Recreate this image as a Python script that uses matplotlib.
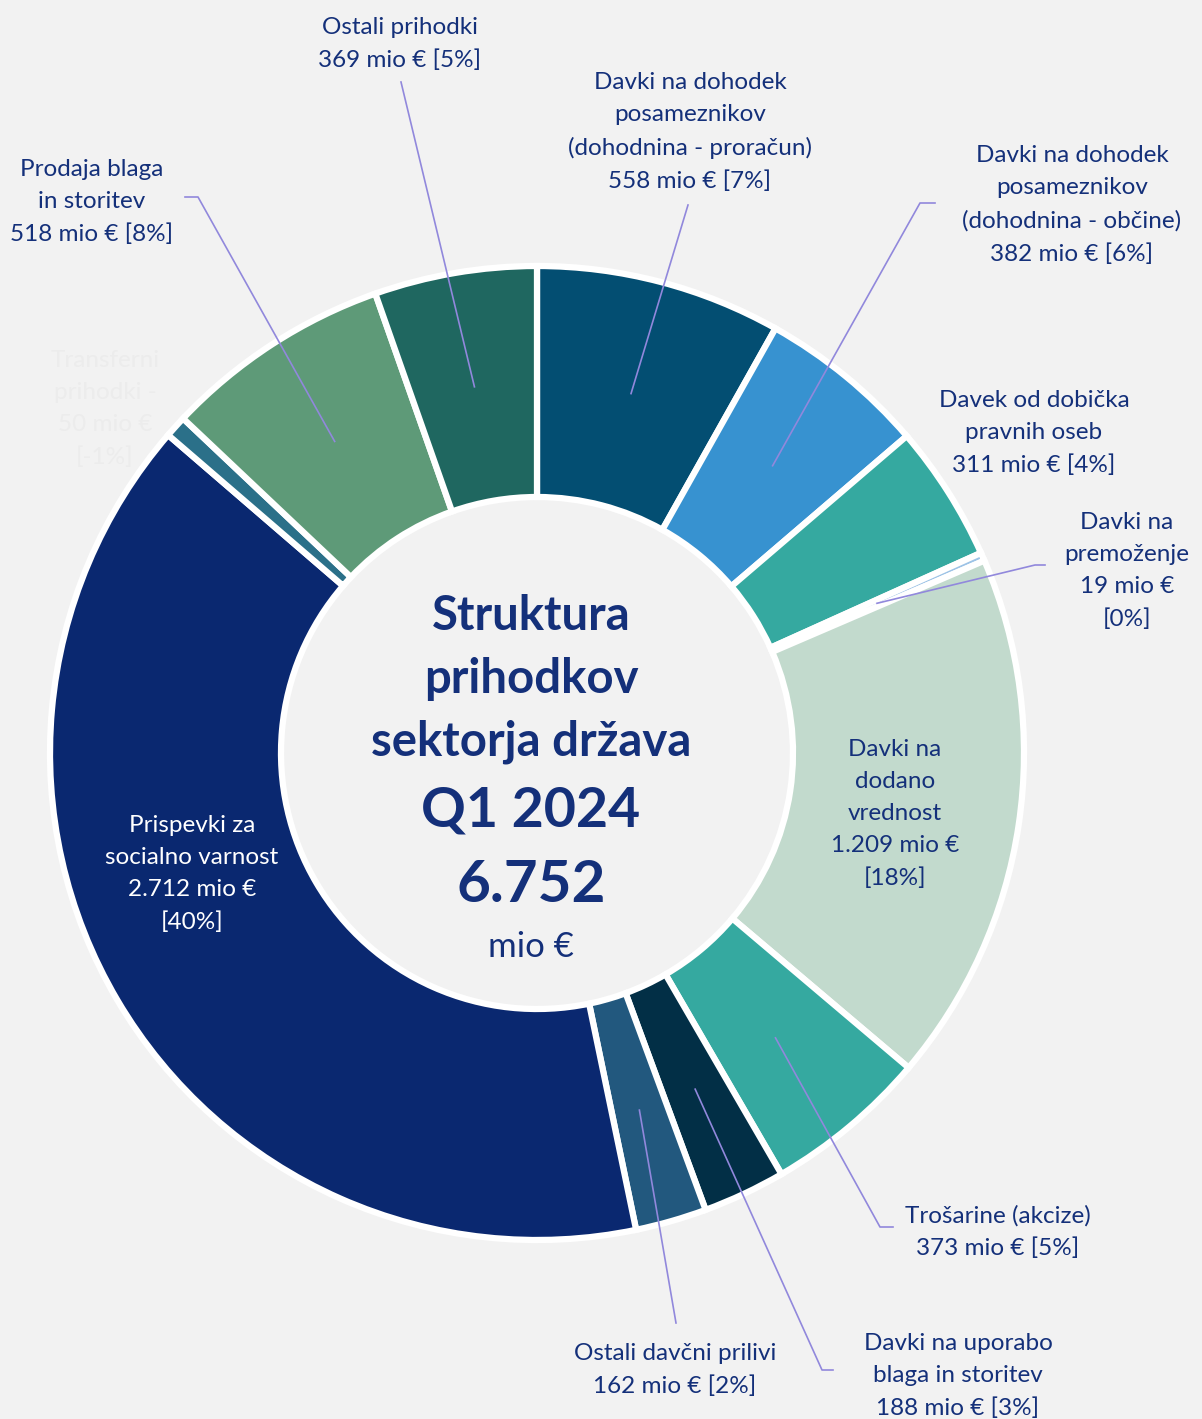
import numpy as np
import matplotlib.pyplot as plt

# data (clockwise from 12 o'clock)
names = ["Davki na dohodek\nposameznikov\n(dohodnina - proračun)",
         "Davki na dohodek\nposameznikov\n(dohodnina - občine)",
         "Davek od dobička\npravnih oseb",
         "Davki na\npremoženje",
         "Davki na\ndodano\nvrednost",
         "Trošarine (akcize)",
         "Davki na uporabo\nblaga in storitev",
         "Ostali davčni prilivi",
         "Prispevki za\nsocialno varnost",
         "Transferni\nprihodki -",
         "Prodaja blaga\nin storitev",
         "Ostali prihodki"]
values = [558, 382, 311, 19, 1209, 373, 188, 162, 2712, -50, 518, 369]
value_labels = ["558 mio €", "382 mio €", "311 mio €", "19 mio €", "1.209 mio €",
                "373 mio €", "188 mio €", "162 mio €", "2.712 mio €", "50 mio €",
                "518 mio €", "369 mio €"]
shares = ["[7%]", "[6%]", "[4%]", "[0%]", "[18%]", "[5%]", "[3%]", "[2%]",
          "[40%]", "[-1%]", "[8%]", "[5%]"]
total_label = "6.752"
colors = ["#034e72", "#3792d0", "#35a9a0", "#9dc3e6", "#c2dacd", "#35a9a0",
          "#022f46", "#22587e", "#0a2870", "#2b7089", "#5e9a78", "#1f6760"]

W, H = 1202, 1419
bg = "#f2f2f2"
navy = "#14307a"
lead = "#9188dc"

plt.rcParams['font.family'] = ['Lato', 'DejaVu Sans']

fig = plt.figure(figsize=(W / 100, H / 100), dpi=100, facecolor=bg)
ax = fig.add_axes([0, 0, 1, 1])

def Y(y):
    # image row -> data y
    return H - y

cx, cy = 537, Y(753)
r_out, r_in = 487, 256

ax.pie(np.abs(values), colors=colors, startangle=90, counterclock=False,
       center=(cx, cy), radius=r_out, frame=True,
       wedgeprops=dict(width=r_out - r_in, edgecolor='white', linewidth=4.5))
ax.set_xlim(0, W)
ax.set_ylim(0, H)
ax.set_aspect('equal')
ax.axis('off')

# mid-angles of wedges for leader anchors
absv = np.abs(values)
cum = np.cumsum(absv) - absv / 2
ang = np.deg2rad(90 - cum / absv.sum() * 360)
r_mid = (r_out + r_in) / 2
anchors = [(cx + r_mid * np.cos(a), cy + r_mid * np.sin(a)) for a in ang]

# label layout: (x, y in image px, leader end points)
layout = {
    0: (690, 132, [(688, 205)]),
    1: (1072, 205, [(920, 203), (935, 203)]),
    2: (1034, 433, None),
    3: (1127, 571, [(1035, 565), (1045, 565)]),
    4: (895, 814, None),
    5: (998, 1232, [(880, 1227), (893, 1227)]),
    6: (958, 1376, [(822, 1370), (833, 1370)]),
    7: (675, 1370, [(676, 1323)]),
    8: (192, 874, None),
    9: (105, 409, None),
    10: (92, 202, [(198, 197), (185, 197)]),
    11: (400, 44, [(401, 82)]),
}
for i, (lx, ly, pts) in layout.items():
    if i in (3, 4, 8, 9):
        txt = names[i] + "\n" + value_labels[i] + "\n" + shares[i]
    else:
        txt = names[i] + "\n" + value_labels[i] + " " + shares[i]
    col = navy
    if i == 9:
        col = "#ececec"
    elif i == 8:
        col = "white"
    ax.text(lx, Y(ly), txt, ha='center', va='center', fontsize=17.5,
            color=col, linespacing=1.66)
    if pts:
        xs = [anchors[i][0]] + [p[0] for p in pts]
        ys = [anchors[i][1]] + [Y(p[1]) for p in pts]
        ax.plot(xs, ys, color=lead, lw=1.2)

# centre title
ax.text(531, Y(679), "Struktura\nprihodkov\nsektorja država", ha='center',
        va='center', fontsize=34, fontweight='bold', color=navy, linespacing=1.52)
ax.text(531, Y(810), "Q1 2024", ha='center', va='center', fontsize=40,
        fontweight='bold', color=navy)
ax.text(531, Y(885), total_label, ha='center', va='center', fontsize=42,
        fontweight='bold', color=navy)
ax.text(531, Y(947), "mio €", ha='center', va='center', fontsize=25, color=navy)

fig.savefig("out.png", dpi=100, facecolor=bg)
